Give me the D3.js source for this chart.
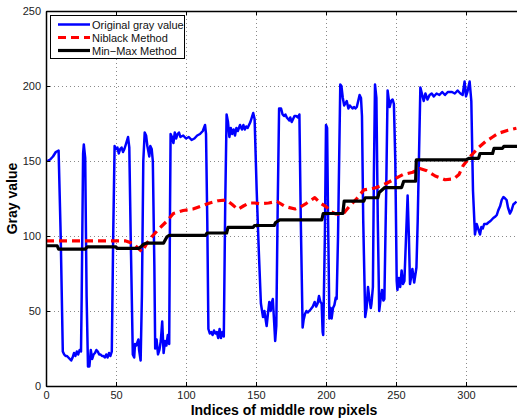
<!DOCTYPE html>
<html lang="en">
<head>
    <meta charset="UTF-8">
    <title>Gray value along middle row</title>
    <script src="https://d3js.org/d3.v7.min.js"></script>
    <style>
        body { margin: 0; background: #fff; }
        svg { display: block; font-family: "Liberation Sans", Arial, sans-serif; }
    </style>
</head>
<body>
    <script>
        // original gray value as [index, value]
        const originalGray = [
            [1,150],[3,151],[5,153],[7,156],[9,157],[10.5,100],[12,23],
            [13,21],[14,20],[15,20],[16,19],[17,18],[18,17],[19,19],[20,22],[21,20],[22,23],[23,21],[24,24],[25,23],
            [25.5,60],[26.5,155],[27,161],[28,152],[29,60],[30,13],
            [31,13],[32,24],[33,18],[34,21],[35,22],[36,24],[37,23],[38,21],[39,21],[40,20],[41,20],[42,19],[43,21],[44,19],[45,22],[46,20],[47,23],
            [48,100],[49,160],[50,158],[51,159],[52,155],[53,158],[54,159],[55,156],[56,158],[57,161],[58.6,166],[59.5,159],[60.5,100],[62,21],
            [63,19],[63.6,28],[64.5,27],[66,31],[66.5,24],[67.6,17],[68.5,60],
            [69.5,150],[70.5,169],[71.5,167],[72.4,160],[73.8,153],[74.5,160],[75.5,158],[76.3,150],[77.4,80],[78,25],
            [79,31],[80,21],[81,24],[82,30],[83,43],[84,22],[85,30],[86,27],[87,34],[88,28],
            [88.6,120],[89,168],[90,166],[91,162],[92,169],[93,165],[94,168],[95,169],[96,166],[98,167],[100,165],[102,166],[104,164],[106,165],[108,167],[110,168],[111,169],[112,170],[113.6,174],[114.3,168],[115.2,110],[116,38],
            [117,35],[118,36],[119,34],[120,37],[121,35],[122,36],[123,32],[124,38],[125,32],[126,36],[127,33],
            [128,120],[129,181],[130,176],[131,166],[132,172],[133,168],[134,171],[135,167],[136,172],[137,170],[138.6,174],[140,171],[141,174],[142,171],[143,173],[144,172],[145,174],[146,176],[147,179],[148,182],[149,178],[150.5,130],[152,90],
            [153.5,55],[155,46],[156,50],[157.6,40],[158.5,48],[159.5,56],[160.5,50],[161,55],[162,58],[163,42],[163.7,30],[164.5,40],[165.5,120],
            [166.5,185],[167.9,185],[169,181],[170,180],[171,181],[172,179],[173.8,177],[174.5,179],[175.5,176],[176.5,178],[177.5,180],[178.6,180],[180,179],[181,181],[182,110],[183.3,39],
            [184,44],[185,48],[186,50],[187,49],[188,50],[189,51],[190.6,53],[191.9,56],[193,53],[194,55],[195,60],[196,56],[196.9,55],[197.6,36],[198,34],
            [199.2,100],[200,174],[200.8,172],[201.5,110],[202.4,45],[203.3,52],[204,45],[205,52],[206,54],[207,59],[207.6,58],[208.6,100],
            [210.2,201],[211,200],[212,192],[213,187],[214.8,190],[216,185],[217,187],[218,186],[219,185],[220,186],[221,185],[222,186],[223,190],[224,194],[225,192],[225.7,180],[226.6,110],[228,46],
            [229,52],[230,66],[231,58],[232,52],[232.5,55],[233.5,66],[234.2,140],[235,201],[236,192],[237,110],[238,50],
            [239,58],[240,64],[241,57],[241.7,58],[243,130],[244,197],[245.5,186],[246.5,190],[247.6,191],[248.5,188],[249.5,150],[250.5,70],
            [251,64],[252,72],[253,66],[254,77],[255,68],[256,70],[257.2,100],[258.3,127],[259.2,100],[260,68],[261.7,78],[263,69],[264.6,79],[265.5,110],
            [267.4,199],[269.8,190],[271,195],[272.5,191],[274,194],[275.5,195],[277,193],[279,195],[281,194],[283,196],[285,194],[287,196],[290,196],[292,195],[294,197],[296,195],[297.6,194],[299,203],[300,193],[301,196],[302.6,203],[303.8,190],[305,130],
            [306.4,101],[307.6,108],[309,104],[310,101],[311,106],[312,105],[313,108],[314.8,108],[316,109],[317.5,110],[319.5,112],[321,113],[322,114],[323,117],[324.4,120],[325.5,124],[326.7,126],[328,125],[329,124],[330,119],[331.4,115],[332.5,117],[333.8,121],[335,122],[336,123]
        ];

        // Niblack threshold
        const niblack = [
            [0,96.7],[57,96.7],[62,95],[68.6,89.5],[72,95],[76,100],[82,106],[86,109.6],[91,115],[98,117],[105,118],[111,120],
            [117,122],[123,123.5],[129,124],[133,121],[137,117.8],[141,120],[145,122],[149,122],[153,121.5],[159,122],[165,123],
            [171,119.6],[178,118],[182,119.5],[186,121.8],[192,125.6],[196,122],[200,119.6],[204,116],[207,114.7],[212,114.5],
            [216.6,119.6],[222,125],[227,130.7],[235,132],[243,135],[249,138],[255,141],[262,142.5],[267,145],[272,143.5],
            [278,140],[285,137.5],[291,138],[295,141],[298,147],[304,154],[309,159],[314,163],[319,166],[323,168.4],[330,170.5],[336,171.8]
        ];

        // Min-Max threshold (stepped)
        const minMax = [
            [0,93.5],[8,93.5],[9,91.3],[28,91.3],[29.5,92.8],[50,92.8],[50.7,91.8],[66.4,91.8],[68,93],[70,94.7],[72,95.3],
            [84,95.3],[86.4,99.5],[88,100.4],[114,100.4],[115,102],[129,102],[130,105.8],[148,105.8],[149,107],[163,107],
            [164,109],[167,110.7],[197,110.7],[198,115],[212,115],[213,123.3],[227,123.3],[228,125.5],[237,125.5],[238,129],
            [242,132.3],[254,132.3],[255.5,136.5],[264,136.5],[264.5,150.7],[300,150.7],[302,151.8],[309,151.8],[310,155],
            [319,155],[320,158.4],[326,158.4],[327,159.7],[340,159.7]
        ];

        const xTicks = [0, 50, 100, 150, 200, 250, 300];
        const yTicks = [0, 50, 100, 150, 200, 250];
        const legendLabels = ["Original gray value", "Niblack Method", "Min\u2212Max Method"];

        const width = 517;
        const height = 418;
        const margin = { top: 11, left: 46, bottom: 32 };

        const x = d3.scaleLinear().domain([0, 350]).range([margin.left, margin.left + 350 * 1.4]);
        const y = d3.scaleLinear().domain([0, 250]).range([height - margin.bottom, margin.top]);

        const svg = d3.select("body").append("svg")
            .attr("width", width)
            .attr("height", height);

        svg.append("clipPath").attr("id", "plot-clip")
            .append("rect")
            .attr("x", margin.left).attr("y", margin.top)
            .attr("width", width - margin.left).attr("height", y(0) - margin.top);

        // dotted grid
        const grid = svg.append("g").attr("stroke", "#8a8a8a").attr("stroke-width", 1)
            .attr("stroke-dasharray", "1,3");
        grid.selectAll(".gx").data(xTicks.filter(d => d > 0)).enter().append("line")
            .attr("x1", d => Math.round(x(d)) + 0.5).attr("x2", d => Math.round(x(d)) + 0.5)
            .attr("y1", y(250)).attr("y2", y(0));
        grid.selectAll(".gy").data(yTicks.filter(d => d > 0 && d < 250)).enter().append("line")
            .attr("x1", margin.left).attr("x2", width)
            .attr("y1", d => Math.round(y(d)) + 0.5).attr("y2", d => Math.round(y(d)) + 0.5);

        // curves
        const line = d3.line().x(d => x(d[0])).y(d => y(d[1]));
        const plot = svg.append("g").attr("clip-path", "url(#plot-clip)")
            .attr("fill", "none").attr("stroke-linejoin", "round");
        plot.append("path").datum(originalGray).attr("d", line)
            .attr("stroke", "#0000ff").attr("stroke-width", 2.5);
        plot.append("path").datum(niblack).attr("d", line)
            .attr("stroke", "#ff0000").attr("stroke-width", 3.2).attr("stroke-dasharray", "8,5");
        plot.append("path").datum(minMax).attr("d", line)
            .attr("stroke", "#000").attr("stroke-width", 3.2);

        // axes, MATLAB style ticks pointing inward
        const xAxis = svg.append("g").attr("transform", `translate(0,${y(0)})`)
            .call(d3.axisBottom(x).tickValues(xTicks).tickSizeInner(-4).tickSizeOuter(0).tickPadding(5.5));
        const xTop = svg.append("g").attr("transform", `translate(0,${y(250)})`)
            .call(d3.axisTop(x).tickValues(xTicks).tickSizeInner(-4).tickSizeOuter(0).tickFormat(""));
        const yAxis = svg.append("g").attr("transform", `translate(${margin.left},0)`)
            .call(d3.axisLeft(y).tickValues(yTicks).tickSizeInner(-4).tickSizeOuter(0).tickPadding(5));
        [xAxis, xTop, yAxis].forEach(g => {
            g.select(".domain").attr("stroke", "#000").attr("stroke-width", 1.5);
            g.selectAll(".tick line").attr("stroke", "#000");
            g.selectAll("text").attr("font-size", 11).attr("fill", "#222")
                .attr("font-family", "'Liberation Sans', Arial, sans-serif");
        });

        svg.append("text")
            .attr("x", 284).attr("y", 415)
            .attr("text-anchor", "middle")
            .attr("font-size", 14).attr("font-weight", "bold")
            .text("Indices of middle row pixels");
        svg.append("text")
            .attr("transform", `translate(17,${(y(0) + y(250)) / 2}) rotate(-90)`)
            .attr("text-anchor", "middle")
            .attr("font-size", 14).attr("font-weight", "bold")
            .text("Gray value");

        // legend
        const legend = svg.append("g").attr("transform", "translate(50,15)");
        legend.append("rect").attr("x", 0.5).attr("y", 0.5).attr("width", 134).attr("height", 43)
            .attr("fill", "#fff").attr("stroke", "#000").attr("stroke-width", 1);
        const styles = [
            { color: "#0000ff", width: 2.5, dash: null },
            { color: "#ff0000", width: 3.2, dash: "8,5" },
            { color: "#000", width: 3.2, dash: null }
        ];
        const item = legend.selectAll(".item").data(legendLabels).enter().append("g")
            .attr("transform", (d, i) => `translate(0,${9.5 + i * 13})`);
        item.append("line").attr("x1", 8).attr("x2", 40).attr("y1", 0).attr("y2", 0)
            .attr("stroke", (d, i) => styles[i].color)
            .attr("stroke-width", (d, i) => styles[i].width)
            .attr("stroke-dasharray", (d, i) => styles[i].dash);
        item.append("text").attr("x", 42).attr("y", 4)
            .attr("font-size", 11).attr("fill", "#111")
            .text(d => d);
    </script>
</body>
</html>
